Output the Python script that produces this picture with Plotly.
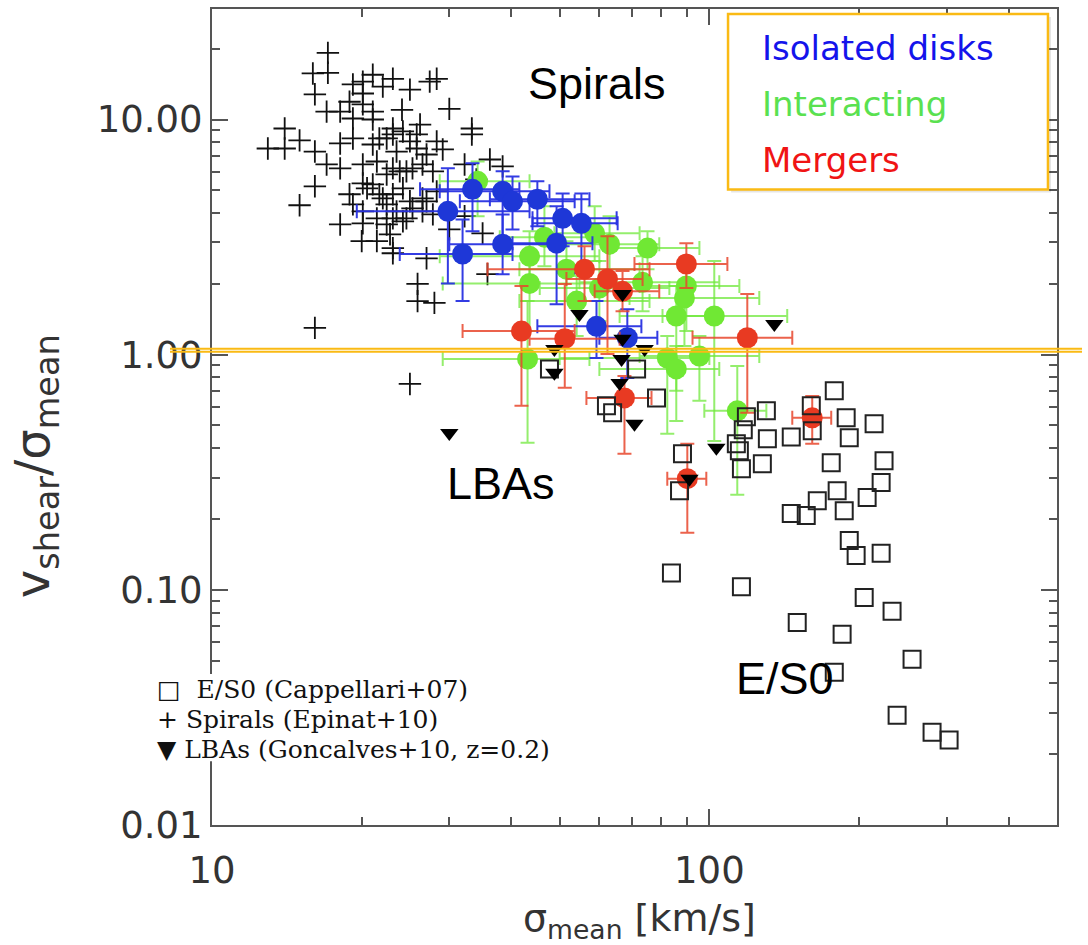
import numpy as np
import plotly.graph_objects as go

# ---------------- data ----------------
# Spirals (Epinat+10): sigma_mean [km/s], v_shear/sigma_mean
spiral_sigma = [17.1, 15.95, 17.1, 16.1, 14.0, 12.95, 14.0, 15.0, 16.1, 17.0, 18.1, 16.1, 15.0, 18.1,
                17.0, 18.1, 19.2, 20.1, 21.05, 23.1, 22.05, 25.0, 27.4, 28.3, 20.1, 18.9, 20.1, 21.05,
                24.1, 30.0, 19.2, 21.05, 19.2, 18.1, 23.1, 24.2, 26.2, 25.0, 22.45, 21.05, 23.5, 25.8,
                28.3, 29.1, 27.0, 20.1, 21.45, 23.1, 22.45, 24.6, 26.5, 27.8, 21.05, 20.1, 18.9, 19.2,
                22.05, 23.1, 24.2, 25.0, 26.5, 28.3, 20.1, 21.45, 23.5, 24.2, 26.5, 20.1, 22.45, 33.3,
                33.3, 36.2, 32.2, 38.4, 20.0, 23.1, 27.0, 35.0, 32.2, 30.0, 35.8, 25.9, 25.9, 28.0,
                16.1, 25.0, 34.0, 21.7, 23.1, 25.8, 23.85, 25.3, 22.45, 25.3, 23.1, 24.6, 22.8, 21.45,
                23.1, 27.8, 27.0, 20.5, 21.7]
spiral_ratio = [19.2, 15.7, 15.8, 12.8, 9.16, 7.53, 7.53, 8.15, 7.31, 6.44, 6.20, 5.20, 4.32, 3.58,
                10.8, 10.8, 14.1, 14.5, 15.5, 14.9, 13.8, 13.4, 14.5, 14.9, 12.9, 11.9, 11.6, 10.8,
                11.0, 11.1, 10.1, 10.0, 8.31, 7.91, 9.16, 8.90, 9.52, 8.07, 8.31, 7.83, 7.31, 7.53,
                8.07, 7.46, 7.10, 6.44, 6.63, 6.20, 5.84, 6.02, 6.44, 6.02, 5.30, 5.35, 4.81, 4.36,
                4.62, 4.81, 5.10, 4.49, 4.62, 4.95, 4.07, 3.80, 4.07, 3.69, 4.07, 3.62, 3.58, 9.16,
                8.64, 6.76, 6.44, 6.32, 3.04, 2.70, 2.57, 3.28, 3.88, 3.41, 2.20, 2.00, 1.69, 1.66,
                1.30, 0.751, 5.56, 8.31, 8.64, 8.64, 6.02, 6.20, 4.36, 4.19, 3.80, 3.80, 3.25, 3.04,
                2.84, 3.95, 4.49, 5.10, 4.81]

# E/S0 (Cappellari+07)
es0_sigma = [47.7, 62.1, 63.9, 71.4, 78.3, 88.3, 87.1, 83.9, 118.7, 117.0, 113.3, 114.9, 116.0,
             130.2, 130.8, 127.8, 146.1, 160.3, 161.0, 178.3, 188.4, 191.1, 214.4, 175.8, 224.5,
             221.5, 207.6, 180.7, 164.8, 156.6, 146.1, 186.7, 191.1, 197.3, 221.5, 116.0, 204.8,
             233.0, 150.2, 184.9, 255.6, 178.3, 238.5, 280.4, 303.4]
es0_ratio = [0.870, 0.606, 0.566, 0.870, 0.655, 0.379, 0.264, 0.118, 0.544, 0.479, 0.418, 0.390,
             0.327, 0.577, 0.439, 0.344, 0.447, 0.606, 0.475, 0.702, 0.539, 0.443, 0.508, 0.347,
             0.354, 0.286, 0.247, 0.264, 0.239, 0.207, 0.211, 0.217, 0.162, 0.140, 0.143, 0.103,
             0.0928, 0.0810, 0.0727, 0.0647, 0.0507, 0.0446, 0.0293, 0.0248, 0.0230]

# LBAs (Goncalves+10, z=0.2)
lba_sigma = [30.0, 48.8, 48.8, 54.8, 66.9, 66.9, 66.6, 66.0, 74.1, 70.7, 103.3, 91.2, 135.1]
lba_ratio = [0.465, 1.057, 0.837, 1.49, 1.81, 1.17, 0.959, 0.758, 1.057, 0.508, 0.402, 0.297, 1.35]

# Isolated disks: value with lower / upper bounds
iso_sigma = [29.8, 31.9, 33.4, 38.4, 40.2, 45.1, 38.4, 49.3, 50.7, 55.3, 59.3, 68.4]
iso_sigma_lo = [19.55, 23.85, 26.2, 28.7, 31.5, 36.2, 30.0, 40.2, 44.1, 44.1, 45.1, 60.1]
iso_sigma_hi = [43.5, 40.2, 41.5, 47.7, 53.6, 57.4, 50.0, 58.2, 65.1, 65.4, 73.0, 78.6]
iso_ratio = [4.07, 2.68, 5.05, 4.95, 4.49, 4.58, 2.95, 2.98, 3.80, 3.62, 1.32, 1.18]
iso_ratio_lo = [2.01, 1.69, 3.35, 3.04, 3.41, 3.52, 2.20, 1.64, 2.89, 2.22, 0.968, 0.796]
iso_ratio_hi = [6.20, 3.76, 6.51, 6.02, 5.73, 5.46, 3.95, 4.28, 4.85, 4.85, 1.69, 1.56]

# Interacting
int_sigma = [34.2, 43.5, 43.5, 46.6, 51.6, 54.1, 58.8, 63.0, 60.1, 75.1, 73.4, 89.9, 89.1, 85.8,
             102.3, 82.3, 85.8, 95.5, 43.1, 113.8]
int_sigma_lo = [28.7, 28.7, 29.1, 37.9, 41.5, 41.5, 48.8, 50.0, 45.6, 63.0, 54.8, 72.4, 69.1, 66.0,
                80.5, 50.0, 60.1, 72.4, 29.1, 97.7]
int_sigma_hi = [43.5, 60.1, 63.0, 60.1, 72.4, 75.8, 72.4, 79.3, 83.1, 95.5, 104.7, 114.9, 126.0,
                104.7, 143.4, 100.0, 104.7, 126.0, 57.4, 130.2]
int_ratio = [5.46, 2.62, 2.01, 3.16, 2.31, 1.69, 3.28, 2.95, 1.92, 2.84, 2.03, 1.96, 1.74, 1.46,
             1.46, 0.968, 0.870, 0.987, 0.959, 0.577]
int_ratio_lo = [3.88, 2.01, 1.26, 2.38, 1.69, 1.20, 2.50, 2.16, 1.39, 2.31, 1.53, 1.26, 1.09, 0.702,
                0.430, 0.461, 0.523, 0.637, 0.422, 0.254]
int_ratio_hi = [6.63, 3.35, 2.62, 4.28, 3.04, 2.16, 4.28, 3.88, 2.50, 3.35, 2.62, 2.38, 2.06, 1.96,
                2.50, 1.20, 1.09, 1.20, 1.69, 0.896]

# Mergers
mrg_sigma = [41.9, 51.2, 56.1, 62.4, 66.9, 89.9, 119.2, 67.5, 90.3, 161.0]
mrg_sigma_lo = [31.9, 43.5, 35.8, 51.6, 58.8, 70.7, 92.5, 56.6, 82.3, 146.8]
mrg_sigma_hi = [53.6, 66.0, 75.8, 73.4, 79.3, 108.7, 146.8, 76.5, 98.6, 175.8]
mrg_ratio = [1.26, 1.17, 2.31, 2.10, 1.86, 2.43, 1.18, 0.655, 0.297, 0.539]
mrg_ratio_lo = [0.606, 0.723, 1.69, 1.007, 1.53, 1.92, 0.566, 0.379, 0.175, 0.418]
mrg_ratio_hi = [1.96, 2.00, 2.89, 3.19, 2.27, 2.98, 1.81, 0.812, 0.418, 0.668]

x_ticks = [10, 100]
x_ticktext = ["10", "100"]
y_ticks = [0.01, 0.1, 1, 10]
y_ticktext = ["0.01", "0.10", "1.00", "10.00"]
x_minor = [20, 30, 40, 50, 60, 70, 80, 90, 200, 300, 400]
y_minor = [0.02, 0.03, 0.04, 0.05, 0.06, 0.07, 0.08, 0.09, 0.2, 0.3, 0.4, 0.5, 0.6, 0.7, 0.8, 0.9,
           2, 3, 4, 5, 6, 7, 8, 9, 20]

# ---------------- styling ----------------
BLUE = "rgb(30,55,215)"
GREEN = "rgb(112,232,52)"
RED = "rgb(232,58,34)"
ORANGE = "rgb(250,186,20)"
AXIS = "#555555"
GOTHIC = "DejaVu Sans"


def err(v, lo, hi):
    v, lo, hi = np.array(v), np.array(lo), np.array(hi)
    return hi - v, v - lo


def group_trace(name, sx, sxl, sxh, ry, ryl, ryh, color, barcolor):
    ex_p, ex_m = err(sx, sxl, sxh)
    ey_p, ey_m = err(ry, ryl, ryh)
    return go.Scatter(
        x=sx, y=ry, mode="markers", name=name,
        marker=dict(symbol="circle", size=21, color=color, line=dict(width=0)),
        error_x=dict(type="data", symmetric=False, array=ex_p, arrayminus=ex_m,
                     color=barcolor, thickness=2, width=7),
        error_y=dict(type="data", symmetric=False, array=ey_p, arrayminus=ey_m,
                     color=barcolor, thickness=2, width=7),
    )


fig = go.Figure()

fig.add_trace(go.Scatter(
    x=spiral_sigma, y=spiral_ratio, mode="markers", name="Spirals",
    marker=dict(symbol="cross-thin-open", size=16, color="#111111",
                line=dict(width=1.8, color="#111111")),
))
fig.add_trace(group_trace("Interacting", int_sigma, int_sigma_lo, int_sigma_hi,
                          int_ratio, int_ratio_lo, int_ratio_hi, GREEN, "rgba(112,232,60,0.75)"))
fig.add_trace(group_trace("Isolated disks", iso_sigma, iso_sigma_lo, iso_sigma_hi,
                          iso_ratio, iso_ratio_lo, iso_ratio_hi, BLUE, "rgba(40,50,225,0.95)"))
fig.add_trace(group_trace("Mergers", mrg_sigma, mrg_sigma_lo, mrg_sigma_hi,
                          mrg_ratio, mrg_ratio_lo, mrg_ratio_hi, RED, "rgba(232,70,45,0.85)"))
fig.add_trace(go.Scatter(
    x=es0_sigma, y=es0_ratio, mode="markers", name="E/S0",
    marker=dict(symbol="square-open", size=17, color="#222222",
                line=dict(width=2, color="#222222")),
))
fig.add_trace(go.Scatter(
    x=lba_sigma, y=lba_ratio, mode="markers", name="LBAs",
    marker=dict(symbol="triangle-down", size=16, color="#000000", line=dict(width=0)),
))

axis_common = dict(
    type="log", showgrid=False, zeroline=False, showline=True, linecolor=AXIS, linewidth=2,
    mirror="ticks", ticks="inside", ticklen=16, tickwidth=2, tickcolor=AXIS,
    tickfont=dict(family=GOTHIC, size=37, color="#333333"),
)

fig.update_layout(
    width=1088, height=945,
    margin=dict(l=212, r=31, t=7, b=120),
    paper_bgcolor="white", plot_bgcolor="white",
    showlegend=False,
    xaxis=dict(axis_common, range=[1, np.log10(500)], tickvals=x_ticks, ticktext=x_ticktext,
               ticklabelstandoff=12,
               minor=dict(tickvals=x_minor, ticks="inside", ticklen=8, tickwidth=2, tickcolor=AXIS)),
    yaxis=dict(axis_common, range=[-2, 1.47], tickvals=y_ticks, ticktext=y_ticktext,
               minor=dict(tickvals=y_minor, ticks="inside", ticklen=8, tickwidth=2, tickcolor=AXIS)),
)

# axis titles
fig.add_annotation(text="σ<sub>mean</sub> [km/s]", xref="paper", yref="paper",
                   x=0.5065, y=-0.117, xanchor="center", yanchor="middle", showarrow=False,
                   font=dict(family=GOTHIC, size=38, color="#333333"))
fig.add_annotation(text="v<sub>shear</sub>/σ<sub>mean</sub>", xref="paper", yref="paper",
                   x=-0.208, y=0.440, xanchor="center", yanchor="middle", showarrow=False,
                   textangle=-90, font=dict(family=GOTHIC, size=48, color="#333333"))

# region labels
for label, lx, ly in [("Spirals", 0.4556, 0.9083), ("LBAs", 0.342, 0.418), ("E/S0", 0.678, 0.180)]:
    fig.add_annotation(text=label, xref="paper", yref="paper", x=lx, y=ly,
                       xanchor="center", yanchor="middle", showarrow=False,
                       font=dict(family="Liberation Sans", size=45, color="#000000"))

# symbol key, lower left (white strip hides the axis behind the text)
fig.add_shape(type="rect", xref="paper", yref="paper", x0=-0.02, x1=0.025, y0=0.078, y1=0.185,
              line=dict(width=0), fillcolor="white", layer="above")
key_lines = [("□  E/S0 (Cappellari+07)", 0.166),
             ("+ Spirals (Epinat+10)", 0.1293),
             ("▼ LBAs (Goncalves+10, z=0.2)", 0.0926)]
for txt, ky in key_lines:
    fig.add_annotation(text=txt, xref="paper", yref="paper", x=-0.0675, y=ky,
                       xanchor="left", yanchor="middle", showarrow=False,
                       font=dict(family="DejaVu Serif", size=25, color="#111111"))

# highlight lines near unity
for ly in [1.06, 1.03]:
    fig.add_shape(type="line", xref="paper", yref="y", x0=-0.0497, x1=1.0296, y0=ly, y1=ly,
                  line=dict(color=ORANGE, width=2), layer="above")

# colour key box
fig.add_shape(type="rect", xref="paper", yref="paper", x0=0.6143, x1=0.9929, y0=0.7750, y1=0.9902,
              line=dict(width=0), fillcolor="rgba(0,0,0,0.10)", layer="above")
fig.add_shape(type="rect", xref="paper", yref="paper", x0=0.6107, x1=0.9893, y0=0.7787, y1=0.9939,
              line=dict(color=ORANGE, width=2.5), fillcolor="white", layer="above")
for txt, col, ky in [("Isolated disks", "rgb(20,20,235)", 0.9523),
                     ("Interacting", "rgb(90,225,80)", 0.8839),
                     ("Mergers", "rgb(240,20,20)", 0.8154)]:
    fig.add_annotation(text=txt, xref="paper", yref="paper", x=0.6485, y=ky,
                       xanchor="left", yanchor="middle", showarrow=False,
                       font=dict(family=GOTHIC, size=34, color=col))

fig.write_html("out.html", config={"displayModeBar": False})
